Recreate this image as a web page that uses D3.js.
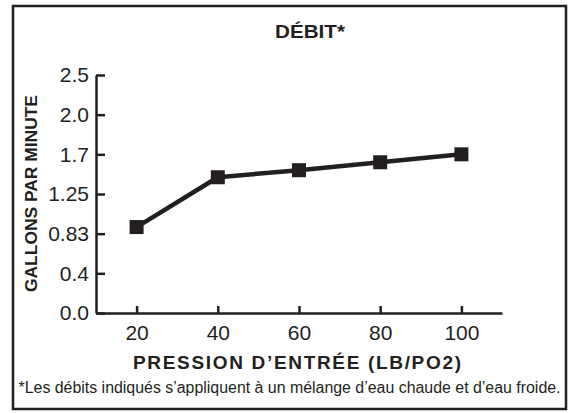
<!DOCTYPE html>
<html>
<head>
<meta charset="utf-8">
<script src="https://cdn.jsdelivr.net/npm/d3@7/dist/d3.min.js"></script>
<style>
  html, body { margin: 0; padding: 0; background: #fff; }
  svg { display: block; font-family: "Liberation Sans", Arial, Helvetica, sans-serif; }
</style>
</head>
<body>
<div id="chart"></div>
<script>
// chart data
const pressures = [20, 40, 60, 80, 100];
const flows = [0.9, 1.44, 1.52, 1.61, 1.7];
const xTicks = [20, 40, 60, 80, 100];
const yTicks = [0, 0.4, 0.83, 1.25, 1.7, 2.0, 2.5];
const yTickLabels = ['0.0', '0.4', '0.83', '1.25', '1.7', '2.0', '2.5'];
const title = 'DÉBIT*';
const xTitle = 'PRESSION D’ENTRÉE (LB/PO2)';
const yTitle = 'GALLONS PAR MINUTE';
const footnote = '*Les débits indiqués s’appliquent à un mélange d’eau chaude et d’eau froide.';

const W = 569, H = 413;
const ink = '#231f20';

const svg = d3.select('#chart').append('svg')
  .attr('width', W)
  .attr('height', H);

// frame
svg.append('rect')
  .attr('x', 13).attr('y', 6)
  .attr('width', 553).attr('height', 403)
  .attr('fill', 'none')
  .attr('stroke', ink)
  .attr('stroke-width', 2.5);

const plot = { left: 96, right: 502, top: 75, bottom: 313 };

const x = d3.scaleLinear().domain([10, 110]).range([plot.left, plot.right]);

// the y ticks are evenly spaced even though their values are not
const step = (plot.bottom - plot.top) / (yTicks.length - 1);
const y = d3.scaleLinear()
  .domain(yTicks)
  .range(yTicks.map((d, i) => plot.bottom - i * step));

const xAxis = svg.append('g')
  .attr('transform', `translate(0, ${plot.bottom})`)
  .call(d3.axisBottom(x)
    .tickValues(xTicks)
    .tickSizeInner(-7)
    .tickSizeOuter(0)
    .tickPadding(12));

const yAxis = svg.append('g')
  .attr('transform', `translate(${plot.left}, 0)`)
  .call(d3.axisLeft(y)
    .tickValues(yTicks)
    .tickFormat((d, i) => yTickLabels[i])
    .tickSizeInner(-9)
    .tickSizeOuter(0)
    .tickPadding(7));

[xAxis, yAxis].forEach(g => {
  g.select('.domain').attr('stroke', ink).attr('stroke-width', 2.5);
  g.selectAll('.tick line').attr('stroke', ink).attr('stroke-width', 2.5);
  g.selectAll('.tick text')
    .attr('fill', ink)
    .style('font-size', '21px')
    .style('font-family', '"Liberation Sans", Arial, sans-serif');
});

// line + square markers
const data = pressures.map((p, i) => ({ p, v: flows[i] }));

svg.append('path')
  .datum(data)
  .attr('fill', 'none')
  .attr('stroke', ink)
  .attr('stroke-width', 4.5)
  .attr('stroke-linejoin', 'round')
  .attr('d', d3.line().x(d => x(d.p)).y(d => y(d.v)));

const ms = 14;
svg.selectAll('rect.marker')
  .data(data)
  .join('rect')
  .attr('class', 'marker')
  .attr('x', d => x(d.p) - ms / 2)
  .attr('y', d => y(d.v) - ms / 2)
  .attr('width', ms)
  .attr('height', ms)
  .attr('fill', ink);

// texts
svg.append('text')
  .attr('x', 310).attr('y', 38)
  .attr('text-anchor', 'middle')
  .attr('fill', ink)
  .style('font-size', '18px')
  .style('font-weight', 'bold')
  .attr('textLength', 70)
  .attr('lengthAdjust', 'spacingAndGlyphs')
  .text(title);

svg.append('text')
  .attr('transform', 'translate(37, 193.5) rotate(-90)')
  .attr('text-anchor', 'middle')
  .attr('fill', ink)
  .style('font-size', '17px')
  .style('font-weight', 'bold')
  .attr('textLength', 197)
  .attr('lengthAdjust', 'spacingAndGlyphs')
  .text(yTitle);

svg.append('text')
  .attr('x', 297).attr('y', 369)
  .attr('text-anchor', 'middle')
  .attr('fill', ink)
  .style('font-size', '19px')
  .style('font-weight', 'bold')
  .attr('textLength', 328)
  .attr('lengthAdjust', 'spacing')
  .text(xTitle);

svg.append('text')
  .attr('x', 289.5).attr('y', 393)
  .attr('text-anchor', 'middle')
  .attr('fill', ink)
  .style('font-size', '16px')
  .style('font-family', '"Liberation Sans Narrow", "Arial Narrow", "Liberation Sans", sans-serif')
  .attr('textLength', 542)
  .attr('lengthAdjust', 'spacingAndGlyphs')
  .text(footnote);
</script>
</body>
</html>
